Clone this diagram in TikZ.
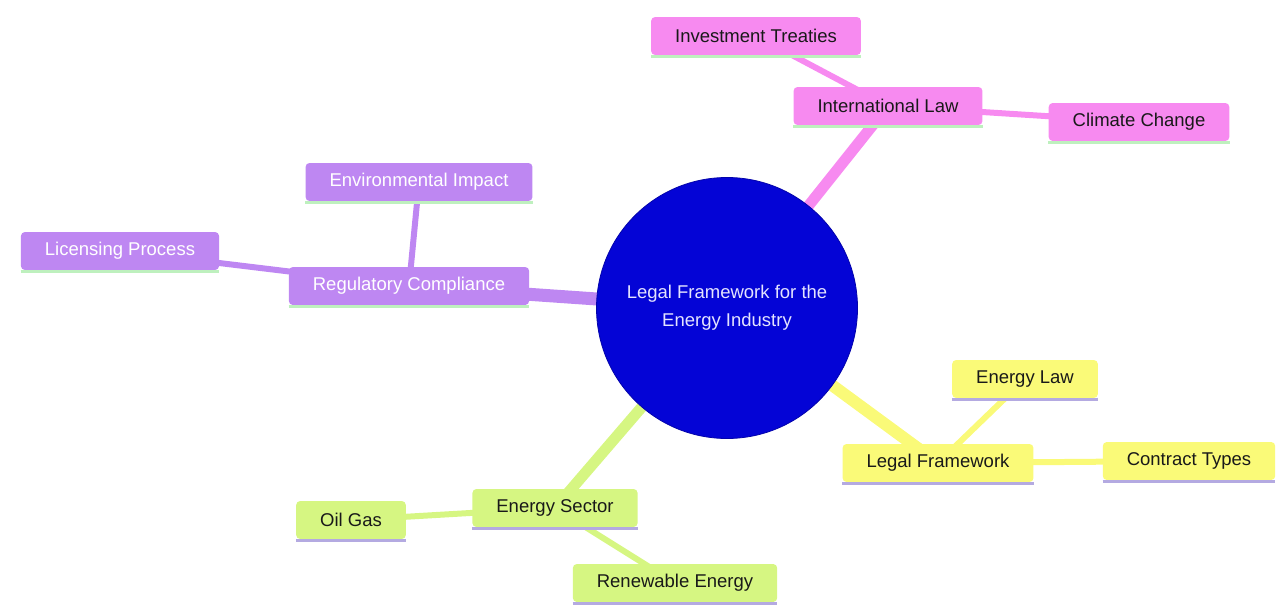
\documentclass[tikz,border=0pt]{standalone}
\usepackage{fontspec}
\setmainfont{Liberation Sans}
\usetikzlibrary{backgrounds}
\definecolor{pinkc}{RGB}{247,138,240}
\definecolor{purpc}{RGB}{190,135,242}
\definecolor{yelc}{RGB}{250,250,120}
\definecolor{grnc}{RGB}{214,246,130}
\definecolor{bluec}{RGB}{4,4,214}
\definecolor{lgreen}{RGB}{190,240,190}
\definecolor{lav}{RGB}{180,170,225}
\definecolor{ctext}{RGB}{228,228,255}
\begin{document}
\begin{tikzpicture}[x=1pt,y=-1pt,
 ubar/.style={append after command={([yshift=-1.2pt]\tikzlastnode.south west) edge[draw=#1, line width=2.6pt] ([yshift=-1.2pt]\tikzlastnode.south east)}},
 box/.style={rounded corners=4pt, minimum height=38pt, inner xsep=24pt, font=\fontsize{18.5}{22}\selectfont},
 pinkbox/.style={box, fill=pinkc, text=black!90, ubar=lgreen},
 purpbox/.style={box, fill=purpc, text=white, ubar=lgreen},
 yelbox/.style={box, fill=yelc, text=black!90, ubar=lav},
 grnbox/.style={box, fill=grnc, text=black!90, ubar=lav},
 root/.style={circle, fill=bluec, draw=bluec!80!black, line width=0.8pt, minimum size=261pt, inner sep=0pt, text=ctext, align=center, font=\fontsize{18.5}{28}\selectfont},
 thick1/.style={line width=11pt},
 thick2/.style={line width=6pt},
]
\useasboundingbox (0,0) rectangle (1276,605);
\node[root] (C) at (727,308) {Legal Framework for the\\Energy Industry};
\node[pinkbox] (IL) at (888,106) {International Law};
\node[pinkbox] (IT) at (756,36) {Investment Treaties};
\node[pinkbox] (CC) at (1139,122) {Climate Change};
\node[purpbox] (RC) at (409,286) {Regulatory Compliance};
\node[purpbox] (EI) at (419,182) {Environmental Impact};
\node[purpbox] (LP) at (120,251) {Licensing Process};
\node[yelbox] (LF) at (938,463) {Legal Framework};
\node[yelbox] (EL) at (1025,379) {Energy Law};
\node[yelbox] (CT) at (1189,461) {Contract Types};
\node[grnbox] (ES) at (555,508) {Energy Sector};
\node[grnbox] (OG) at (351,520) {Oil Gas};
\node[grnbox] (RE) at (675,583) {Renewable Energy};
\begin{scope}[on background layer]
\draw[pinkc, thick1] (C.center) -- (IL.center);
\draw[pinkc, thick2] (IL.center) -- (IT.center);
\draw[pinkc, thick2] (IL.center) -- (CC.center);
\draw[purpc, thick1, line width=13pt] (C.center) -- (RC.center);
\draw[purpc, thick2] (RC.center) -- (EI.center);
\draw[purpc, thick2] (RC.center) -- (LP.center);
\draw[yelc, thick1, line width=12pt] (C.center) -- (LF.center);
\draw[yelc, thick2] (LF.center) -- (EL.center);
\draw[yelc, thick2] (LF.center) -- (CT.center);
\draw[grnc, thick1] (C.center) -- (ES.center);
\draw[grnc, thick2] (ES.center) -- (OG.center);
\draw[grnc, thick2] (ES.center) -- (RE.center);
\end{scope}
\end{tikzpicture}
\end{document}
